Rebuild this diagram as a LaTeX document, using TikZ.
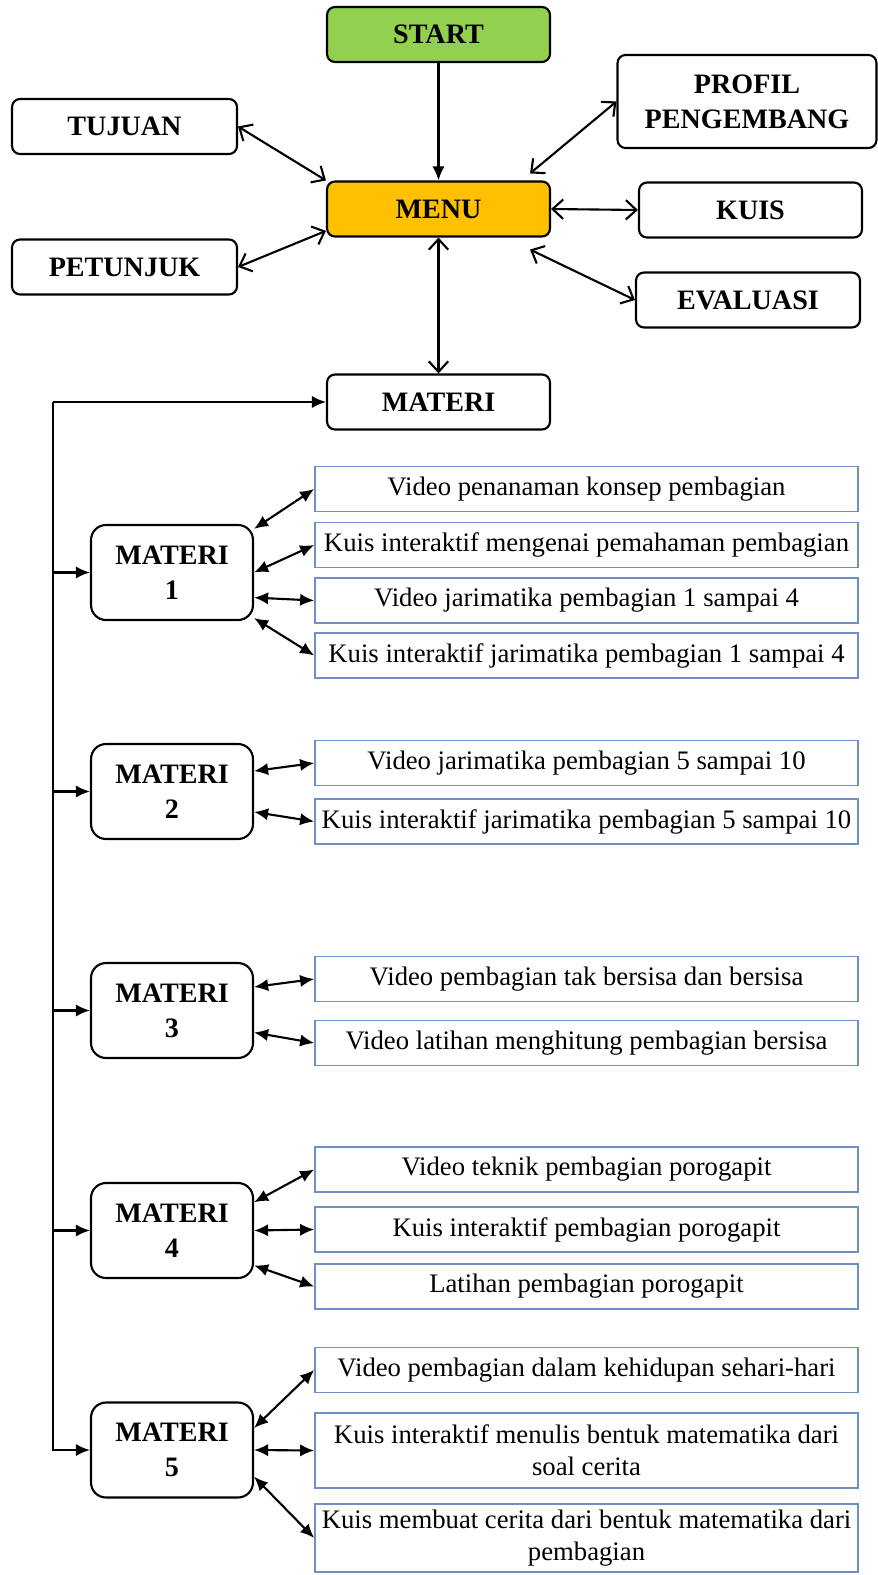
\documentclass[tikz,border=0pt]{standalone}
\usepackage{fontspec}
\setmainfont{Liberation Serif}
\usetikzlibrary{arrows.meta}

\definecolor{startgreen}{RGB}{146,208,80}
\definecolor{menuorange}{RGB}{255,192,0}
\definecolor{isiblue}{RGB}{111,143,201}

\begin{document}
\begin{tikzpicture}[x=0.02cm, y=-0.02cm, line width=1.2pt,
    menubox/.style={draw, line width=1.2pt, rounded corners=0.16cm, minimum width=4.46cm, minimum height=1.1cm,
        align=center, font=\fontsize{16}{20}\selectfont\bfseries},
    materibox/.style={draw, line width=1.2pt, rounded corners=0.3cm, minimum width=3.24cm, minimum height=1.9cm,
        align=center, font=\fontsize{16}{20}\selectfont\bfseries},
    isibox/.style={draw=isiblue, line width=1pt, minimum width=10.86cm, minimum height=0.9cm, inner sep=2pt,
        align=center, font=\fontsize{15.2}{18}\selectfont},
    bolak/.style={{Straight Barb[length=6pt,width=11pt]}-{Straight Barb[length=6pt,width=11pt]}},
    panah/.style={-{Latex[length=8pt,width=7pt]}},
    duapanah/.style={{Latex[length=8pt,width=7pt]}-{Latex[length=8pt,width=7pt]}}]

    \useasboundingbox (0,0) rectangle (878,1575);

    \node[menubox, fill=startgreen] (start) at (438.5,34.5) {START};
    \node[menubox, fill=menuorange] (menu) at (438.5,209) {MENU};
    \node[menubox, minimum width=4.5cm] (tujuan) at (124.5,126.5) {TUJUAN};
    \node[menubox, minimum width=4.5cm] (petunjuk) at (124.5,267) {PETUNJUK};
    \node[menubox, minimum width=5.18cm, minimum height=1.86cm] (profil) at (747,101.5) {PROFIL\\PENGEMBANG};
    \node[menubox] (kuis) at (750.5,210) {KUIS};
    \node[menubox, minimum width=4.48cm] (evaluasi) at (748,300) {EVALUASI};
    \node[menubox] (materi) at (438.5,402) {MATERI};

    \draw[panah] (start) -- (menu);
    \draw[bolak] (tujuan.east) -- (menu.north west);
    \draw[bolak] (petunjuk.east) -- (menu.191);
    \draw[bolak] (profil.west) -- ([xshift=-0.42cm,yshift=0.14cm]menu.north east);
    \draw[bolak] (menu.east) -- (kuis.west);
    \draw[bolak] ([xshift=-0.42cm,yshift=-0.24cm]menu.south east) -- (evaluasi.west);
    \draw[bolak] (menu) -- (materi);

    \node[materibox] (m1) at (172,572.5) {MATERI\\1};
    \node[materibox] (m2) at (172,791.5) {MATERI\\2};
    \node[materibox] (m3) at (172,1010.5) {MATERI\\3};
    \node[materibox] (m4) at (172,1230.5) {MATERI\\4};
    \node[materibox] (m5) at (172,1450) {MATERI\\5};

    \node[isibox] (a1) at (586.5,489) {Video penanaman konsep pembagian};
    \node[isibox] (a2) at (586.5,545) {Kuis interaktif mengenai pemahaman pembagian};
    \node[isibox] (a3) at (586.5,600.5) {Video jarimatika pembagian 1 sampai 4};
    \node[isibox] (a4) at (586.5,655.5) {Kuis interaktif jarimatika pembagian 1 sampai 4};

    \node[isibox] (b1) at (586.5,763) {Video jarimatika pembagian 5 sampai 10};
    \node[isibox] (b2) at (586.5,821.5) {Kuis interaktif jarimatika pembagian 5 sampai 10};

    \node[isibox] (c1) at (586.5,979) {Video pembagian tak bersisa dan bersisa};
    \node[isibox] (c2) at (586.5,1043) {Video latihan menghitung pembagian bersisa};

    \node[isibox] (d1) at (586.5,1169.5) {Video teknik pembagian porogapit};
    \node[isibox] (d2) at (586.5,1229.5) {Kuis interaktif pembagian porogapit};
    \node[isibox] (d3) at (586.5,1286.5) {Latihan pembagian porogapit};

    \node[isibox] (e1) at (586.5,1370) {Video pembagian dalam kehidupan sehari-hari};
    \node[isibox, minimum height=1.5cm] (e2) at (586.5,1450.5) {Kuis interaktif menulis bentuk matematika dari\\soal cerita};
    \node[isibox, minimum height=1.36cm] (e3) at (586.5,1538) {Kuis membuat cerita dari bentuk matematika dari\\pembagian};

    \coordinate (trunk) at (53,402);
    \draw[panah] (trunk) -- (materi.west);
    \draw[panah] (trunk) |- (m5.west);
    \foreach \m in {m1,m2,m3,m4}{
        \draw[panah] (trunk |- \m.west) -- (\m.west);
    }

    \draw[duapanah] (m1.28) -- (a1.west);
    \draw[duapanah] (m1.east) -- (a2.west);
    \draw[duapanah] (m1.-17) -- (a3.west);
    \draw[duapanah] (m1.-29) -- (a4.west);

    \draw[duapanah] (m2.14) -- (b1.west);
    \draw[duapanah] (m2.-14) -- (b2.west);

    \draw[duapanah] (m3.16) -- (c1.west);
    \draw[duapanah] (m3.-15) -- (c2.west);

    \draw[duapanah] (m4.19) -- (d1.west);
    \draw[duapanah] (m4.east) -- (d2.west);
    \draw[duapanah] (m4.-23) -- (d3.west);

    \draw[duapanah] (m5.15) -- (e1.west);
    \draw[duapanah] (m5.east) -- (e2.west);
    \draw[duapanah] (m5.-18) -- (e3.west);

\end{tikzpicture}
\end{document}
